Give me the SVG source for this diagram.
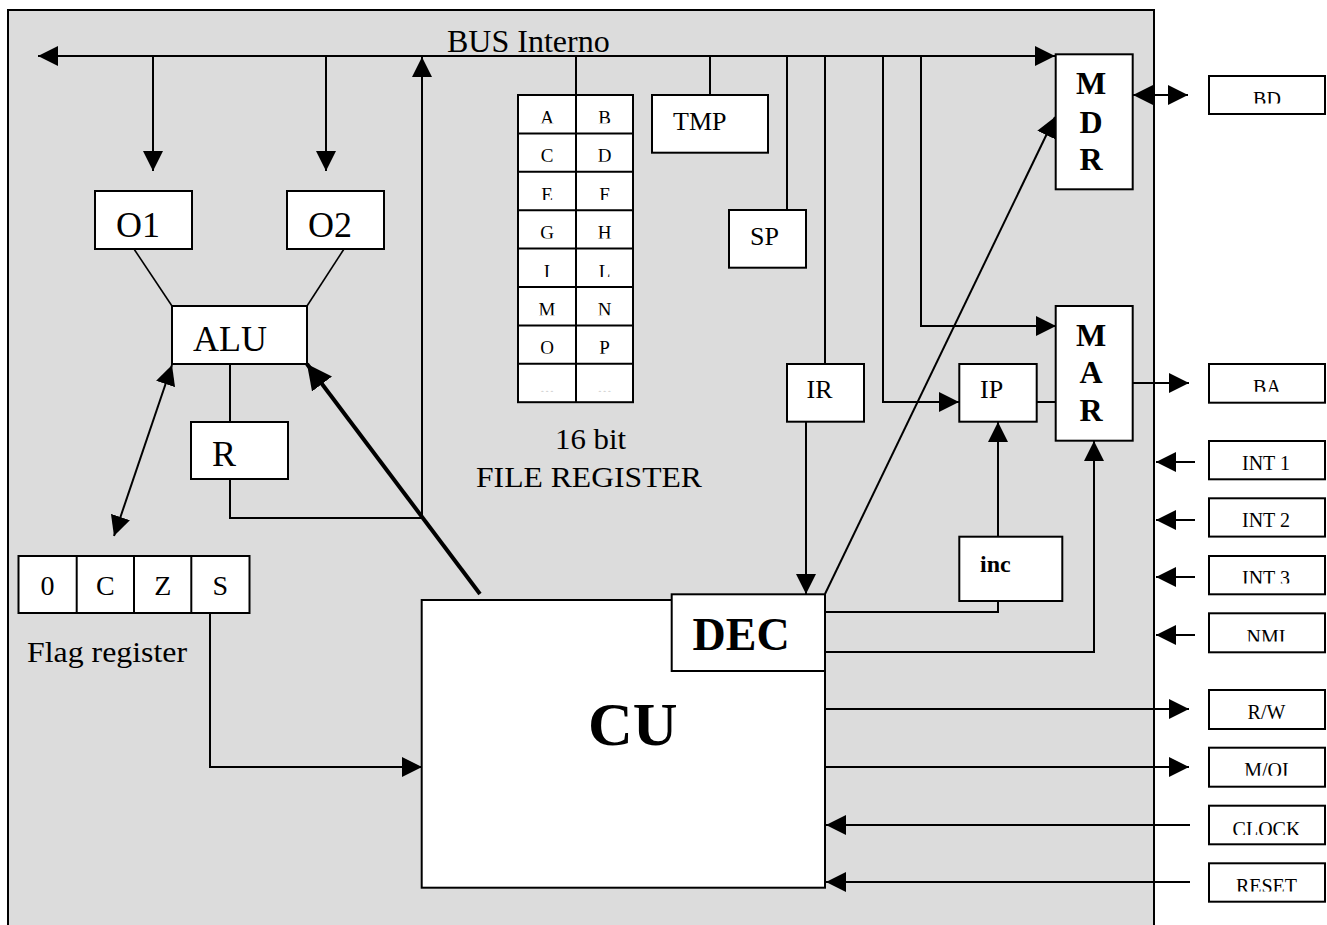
<svg xmlns="http://www.w3.org/2000/svg" width="1327" height="925" viewBox="0 0 1327 925">
  <style>
    .box { fill: #ffffff; stroke: #000000; stroke-width: 2; }
    .ln { fill: none; stroke: #000000; stroke-width: 2; }
    .thin { fill: none; stroke: #000000; stroke-width: 1.6; }
    .t { font-family: "Liberation Serif", "Times New Roman", serif; fill: #000000; }
    .tb { font-family: "Liberation Serif", "Times New Roman", serif; font-weight: bold; fill: #000000; }
    .mid { text-anchor: middle; }
  </style>
  <defs>
    <marker id="arr" viewBox="0 0 20 20" markerWidth="20" markerHeight="20" refX="20" refY="10" markerUnits="userSpaceOnUse" orient="auto-start-reverse">
      <path d="M0,0 L20,10 L0,20 Z" fill="#000000"/>
    </marker>
    <marker id="arrBig" viewBox="0 0 25 25" markerWidth="25" markerHeight="25" refX="25" refY="12.5" markerUnits="userSpaceOnUse" orient="auto">
      <path d="M0,0 L25,12.5 L0,25 Z" fill="#000000"/>
    </marker>
    <!-- visible bands of the register-file cells -->
    <clipPath id="rfClip">
      <rect x="518" y="95" width="115" height="28.3"/>
      <rect x="518" y="133.4" width="115" height="28.3"/>
      <rect x="518" y="171.8" width="115" height="28.3"/>
      <rect x="518" y="210.2" width="115" height="28.3"/>
      <rect x="518" y="248.6" width="115" height="28.3"/>
      <rect x="518" y="287" width="115" height="28.3"/>
      <rect x="518" y="325.4" width="115" height="28.3"/>
      <rect x="518" y="363.8" width="115" height="28.3"/>
    </clipPath>
    <!-- visible bands of the external signal boxes -->
    <clipPath id="sigClip">
      <rect x="1209" y="76" width="116" height="27.5"/>
      <rect x="1209" y="364" width="116" height="27.7"/>
      <rect x="1209" y="441" width="116" height="38"/>
      <rect x="1209" y="498" width="116" height="38"/>
      <rect x="1209" y="556" width="116" height="27.5"/>
      <rect x="1209" y="613" width="116" height="28.6"/>
      <rect x="1209" y="690" width="116" height="38"/>
      <rect x="1209" y="748" width="116" height="27.8"/>
      <rect x="1209" y="806" width="116" height="29"/>
      <rect x="1209" y="863" width="116" height="28.6"/>
    </clipPath>
  </defs>

  <rect width="1327" height="925" fill="#ffffff"/>

  <!-- CPU body -->
  <g id="cpu">
    <rect x="8" y="10" width="1146" height="930" fill="#dcdcdc" stroke="#000000" stroke-width="2"/>
    <text class="t" x="447" y="51.5" font-size="32">BUS Interno</text>
  </g>

  <!-- connectors -->
  <g id="connectors">
    <!-- internal bus -->
    <line class="ln" x1="38" y1="56" x2="1055" y2="56" marker-start="url(#arr)" marker-end="url(#arr)"/>
    <line class="ln" x1="153" y1="56" x2="153" y2="171" marker-end="url(#arr)"/>
    <line class="ln" x1="326" y1="56" x2="326" y2="171" marker-end="url(#arr)"/>
    <line class="ln" x1="576" y1="56" x2="576" y2="95"/>
    <line class="ln" x1="710" y1="56" x2="710" y2="95"/>
    <line class="ln" x1="787" y1="56" x2="787" y2="210"/>
    <line class="ln" x1="825" y1="56" x2="825" y2="364"/>
    <polyline class="ln" points="883,56 883,402 959,402" marker-end="url(#arr)"/>
    <polyline class="ln" points="921,56 921,326 1056,326" marker-end="url(#arr)"/>
    <!-- ALU area -->
    <line class="thin" x1="134" y1="249" x2="172" y2="306"/>
    <line class="thin" x1="344" y1="249" x2="307" y2="306"/>
    <line class="ln" x1="230" y1="364" x2="230" y2="422"/>
    <polyline class="ln" points="230,479 230,518 422,518 422,57" marker-end="url(#arr)"/>
    <line class="ln" x1="114" y1="536" x2="172" y2="365" marker-start="url(#arr)" marker-end="url(#arr)"/>
    <line x1="480" y1="594" x2="307" y2="364" stroke="#000000" stroke-width="4" marker-end="url(#arrBig)"/>
    <polyline class="ln" points="210,613 210,767 422,767" marker-end="url(#arr)"/>
    <!-- control unit -->
    <line class="ln" x1="806" y1="422" x2="806" y2="594" marker-end="url(#arr)"/>
    <line class="ln" x1="825" y1="594" x2="1055" y2="117" marker-end="url(#arr)"/>
    <polyline class="ln" points="825,612 998,612 998,601"/>
    <line class="ln" x1="998" y1="537" x2="998" y2="422" marker-end="url(#arr)"/>
    <polyline class="ln" points="825,652 1094,652 1094,441" marker-end="url(#arr)"/>
    <line class="ln" x1="1037" y1="402" x2="1056" y2="402"/>
    <!-- external signals -->
    <line class="ln" x1="1133" y1="95" x2="1188" y2="95" marker-start="url(#arr)" marker-end="url(#arr)"/>
    <line class="ln" x1="1133" y1="383" x2="1189" y2="383" marker-end="url(#arr)"/>
    <line class="ln" x1="1195" y1="462" x2="1156" y2="462" marker-end="url(#arr)"/>
    <line class="ln" x1="1195" y1="520" x2="1156" y2="520" marker-end="url(#arr)"/>
    <line class="ln" x1="1195" y1="577" x2="1156" y2="577" marker-end="url(#arr)"/>
    <line class="ln" x1="1195" y1="635" x2="1156" y2="635" marker-end="url(#arr)"/>
    <line class="ln" x1="825" y1="709" x2="1189" y2="709" marker-end="url(#arr)"/>
    <line class="ln" x1="825" y1="767" x2="1189" y2="767" marker-end="url(#arr)"/>
    <line class="ln" x1="1190" y1="825" x2="826" y2="825" marker-end="url(#arr)"/>
    <line class="ln" x1="1190" y1="882" x2="826" y2="882" marker-end="url(#arr)"/>
  </g>

  <!-- operand registers -->
  <g id="o1">
    <rect class="box" x="95" y="191" width="97" height="58"/>
    <text class="t" x="116" y="236.5" font-size="36">O1</text>
  </g>
  <g id="o2">
    <rect class="box" x="287" y="191" width="97" height="58"/>
    <text class="t" x="308" y="236.5" font-size="36">O2</text>
  </g>

  <g id="alu">
    <rect class="box" x="172" y="306" width="135" height="58"/>
    <text class="t" x="193" y="350.5" font-size="36">ALU</text>
  </g>

  <g id="r">
    <rect class="box" x="191" y="422" width="97" height="57"/>
    <text class="t" x="212" y="466" font-size="36">R</text>
  </g>

  <!-- flag register -->
  <g id="flags">
    <rect class="box" x="18.5" y="556" width="231" height="57"/>
    <line class="ln" x1="76.7" y1="556" x2="76.7" y2="613"/>
    <line class="ln" x1="134" y1="556" x2="134" y2="613"/>
    <line class="ln" x1="191.3" y1="556" x2="191.3" y2="613"/>
    <text class="t mid" x="47.5" y="595" font-size="28">0</text>
    <text class="t mid" x="105.3" y="595" font-size="28">C</text>
    <text class="t mid" x="162.7" y="595" font-size="28">Z</text>
    <text class="t mid" x="220.3" y="595" font-size="28">S</text>
    <text class="t" x="27" y="661.5" font-size="29" textLength="160" lengthAdjust="spacingAndGlyphs">Flag register</text>
  </g>

  <!-- 16 bit register file -->
  <g id="register-file">
    <rect class="box" x="518" y="95" width="115" height="307.2"/>
    <line class="ln" x1="576" y1="95" x2="576" y2="402.2"/>
    <line class="ln" x1="518" y1="133.4" x2="633" y2="133.4"/>
    <line class="ln" x1="518" y1="171.8" x2="633" y2="171.8"/>
    <line class="ln" x1="518" y1="210.2" x2="633" y2="210.2"/>
    <line class="ln" x1="518" y1="248.6" x2="633" y2="248.6"/>
    <line class="ln" x1="518" y1="287" x2="633" y2="287"/>
    <line class="ln" x1="518" y1="325.4" x2="633" y2="325.4"/>
    <line class="ln" x1="518" y1="363.8" x2="633" y2="363.8"/>
    <g clip-path="url(#rfClip)" font-size="19">
      <text class="t mid" x="547" y="124">A</text>
      <text class="t mid" x="604.5" y="124">B</text>
      <text class="t mid" x="547" y="162.4">C</text>
      <text class="t mid" x="604.5" y="162.4">D</text>
      <text class="t mid" x="547" y="200.8">E</text>
      <text class="t mid" x="604.5" y="200.8">F</text>
      <text class="t mid" x="547" y="239.2">G</text>
      <text class="t mid" x="604.5" y="239.2">H</text>
      <text class="t mid" x="547" y="277.6">I</text>
      <text class="t mid" x="604.5" y="277.6">L</text>
      <text class="t mid" x="547" y="316">M</text>
      <text class="t mid" x="604.5" y="316">N</text>
      <text class="t mid" x="547" y="354.4">O</text>
      <text class="t mid" x="604.5" y="354.4">P</text>
      <text class="mid" x="547" y="392.8" font-family="Liberation Serif, serif" fill="#d6d6d6">...</text>
      <text class="mid" x="604.5" y="392.8" font-family="Liberation Serif, serif" fill="#d6d6d6">...</text>
    </g>
    <text class="t" x="555" y="449.3" font-size="30" textLength="71" lengthAdjust="spacingAndGlyphs">16 bit</text>
    <text class="t" x="476" y="486.7" font-size="30" textLength="226" lengthAdjust="spacingAndGlyphs">FILE REGISTER</text>
  </g>

  <g id="tmp">
    <rect class="box" x="652" y="95" width="116" height="57.7"/>
    <text class="t" x="673" y="130" font-size="26">TMP</text>
  </g>

  <g id="sp">
    <rect class="box" x="729" y="210" width="77" height="57.7"/>
    <text class="t" x="750" y="245" font-size="26">SP</text>
  </g>

  <g id="ir">
    <rect class="box" x="787" y="364" width="77" height="57.7"/>
    <text class="t" x="806.5" y="398" font-size="26">IR</text>
  </g>

  <g id="ip">
    <rect class="box" x="959.3" y="364" width="77.4" height="57.7"/>
    <text class="t" x="980" y="398.3" font-size="26">IP</text>
  </g>

  <g id="inc">
    <rect class="box" x="959.3" y="536.7" width="103" height="64.3"/>
    <text class="tb" x="980" y="571.5" font-size="24">inc</text>
  </g>

  <g id="mdr">
    <rect class="box" x="1055.7" y="54.3" width="77" height="135"/>
    <text class="tb mid" x="1091" y="94" font-size="32">M</text>
    <text class="tb mid" x="1091" y="133" font-size="32">D</text>
    <text class="tb mid" x="1091" y="170" font-size="32">R</text>
  </g>

  <g id="mar">
    <rect class="box" x="1055.7" y="306" width="77" height="134.7"/>
    <text class="tb mid" x="1091" y="345.7" font-size="32">M</text>
    <text class="tb mid" x="1091" y="383.3" font-size="32">A</text>
    <text class="tb mid" x="1091" y="420.7" font-size="32">R</text>
  </g>

  <!-- control unit with instruction decoder -->
  <g id="cu">
    <rect class="box" x="421.7" y="600" width="403.3" height="287.7"/>
    <text class="tb" x="588" y="745" font-size="62">CU</text>
  </g>
  <g id="dec">
    <rect class="box" x="671.7" y="594.3" width="153.3" height="76.7"/>
    <text class="tb" x="692.5" y="650" font-size="46">DEC</text>
  </g>

  <!-- external signal boxes -->
  <g id="signals">
    <g id="bd"><rect class="box" x="1209" y="76" width="116" height="38"/></g>
    <g id="ba"><rect class="box" x="1209" y="364" width="116" height="38.7"/></g>
    <g id="int1"><rect class="box" x="1209" y="441" width="116" height="38.3"/></g>
    <g id="int2"><rect class="box" x="1209" y="498.3" width="116" height="38.3"/></g>
    <g id="int3"><rect class="box" x="1209" y="556" width="116" height="38.3"/></g>
    <g id="nmi"><rect class="box" x="1209" y="613.3" width="116" height="39"/></g>
    <g id="rw"><rect class="box" x="1209" y="690" width="116" height="39"/></g>
    <g id="moi"><rect class="box" x="1209" y="747.7" width="116" height="39"/></g>
    <g id="clock"><rect class="box" x="1209" y="805.7" width="116" height="38.6"/></g>
    <g id="reset"><rect class="box" x="1209" y="863.3" width="116" height="38.4"/></g>
    <g clip-path="url(#sigClip)" font-size="20">
      <text class="t mid" x="1267" y="106">BD</text>
      <text class="t mid" x="1267" y="393.5">BA</text>
      <text class="t mid" x="1266" y="470">INT 1</text>
      <text class="t mid" x="1266" y="527.3">INT 2</text>
      <text class="t mid" x="1266" y="584.5">INT 3</text>
      <text class="t mid" x="1266" y="643.5">NMI</text>
      <text class="t mid" x="1266.5" y="719">R/W</text>
      <text class="t mid" x="1266.5" y="777">M/OI</text>
      <text class="t mid" x="1266.5" y="835.5">CLOCK</text>
      <text class="t mid" x="1266.5" y="893">RESET</text>
    </g>
  </g>
</svg>
